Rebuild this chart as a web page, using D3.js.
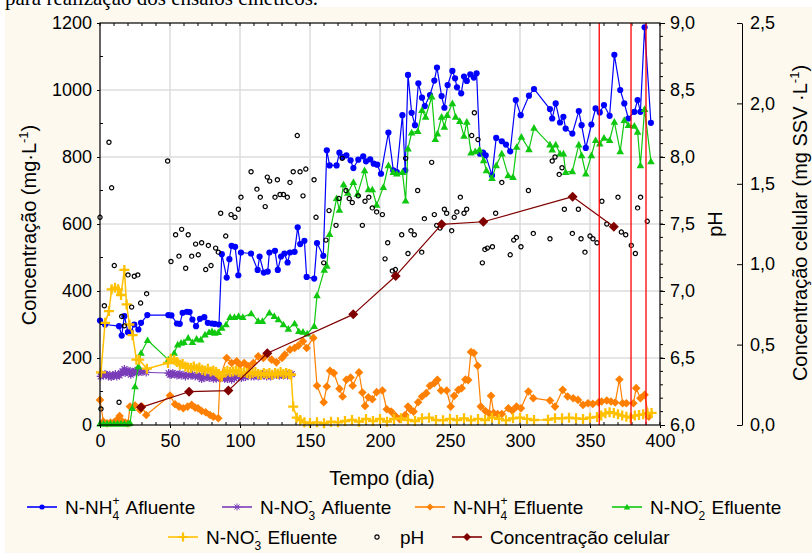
<!DOCTYPE html>
<html>
<head>
<meta charset="utf-8">
<script src="https://cdn.jsdelivr.net/npm/d3@7"></script>
<style>
  html, body { margin: 0; padding: 0; background: #ffffff; }
  svg { display: block; font-family: "Liberation Sans", Arial, Helvetica, sans-serif; }
</style>
</head>
<body>
<svg id="chart" width="812" height="555"></svg>
<script>
// ---- data: [dia, valor] ----
const nh4Afluente = [[0,312],[3.6,300],[13.6,295],[15.5,267],[17.4,325],[20,277],[22,278],[24.5,300],[27.4,285],[29.3,305],[33.8,328],[48.8,328],[51,327],[55,303],[57,302],[59,335],[62,338],[64,337],[66,315],[68.6,295],[71.4,317],[74.5,322],[77,305],[80,303],[82,302],[85,300],[87,510],[90.5,440],[92.4,495],[94,535],[96.5,532],[98.8,447],[100.7,515],[107.9,512],[112.6,463],[114,503],[117,455],[119.8,458],[121,515],[125,520],[127,463],[129.3,503],[131.7,512],[134,485],[135.7,515],[139,517],[141.2,590],[143,540],[146,550],[147.6,442],[153,437],[155,543],[159.5,505],[162,820],[164,775],[169,775],[171,813],[173.3,800],[176,805],[179,790],[181,767],[184.5,792],[188,802],[190,787],[193,793],[195.5,780],[198,777],[200.7,750],[206,873],[209.5,760],[212,755],[216,925],[218,760],[220,1045],[222.6,932],[225,895],[227.4,1020],[230,977],[232,952],[235.7,985],[238.8,1028],[240.7,1067],[244,982],[246,947],[248.3,1015],[251.7,1057],[253.6,1035],[255,1008],[258,990],[260,1040],[262,1027],[264.5,1047],[267,1037],[269,1050],[271.4,810],[273.6,813],[275.5,805],[280,745],[283,857],[287,847],[290,837],[293,817],[297,970],[300.5,925],[306.4,983],[310,1003],[321.4,943],[323,915],[325.5,960],[328.6,903],[331,920],[332.6,885],[337.4,870],[342,937],[344,895],[347,827],[351,897],[354,945],[357,933],[360,955],[364,923],[367.4,1105],[371.6,1000],[374.5,960],[377.4,915],[381.7,935],[384,970],[386,935],[389,1187],[393.5,902]];

const no3Afluente = [[0.5,145],[1.5,150],[2.5,148],[3.5,152],[4.5,150],[6,145],[7,150],[8,143],[9,148],[10,147],[11,152],[12,145],[13,150],[14,148],[15,155],[16,160],[17.4,167],[18,155],[19,158],[20,163],[21,160],[22,150],[23,155],[24,158],[25,162],[26,155],[27.4,165],[29,160],[30,158],[33,157],[49,155],[50,150],[51,150],[52,155],[53,152],[55,148],[56,150],[57,153],[58,148],[60,150],[61,145],[63,148],[65,147],[66,150],[68,145],[70,145],[71,148],[72.6,137],[74,145],[75,142],[77,145],[78,140],[80,143],[81,138],[83,138],[85,145],[86,140],[88,142],[89,138],[91,137],[92,143],[94,135],[96,140],[97,145],[99,145],[101,140],[102,147],[104,143],[105,148],[107,150],[108,145],[110,145],[111,150],[113,145],[114,147],[116,152],[117,148],[119,145],[120,150],[122,145],[123,148],[125,152],[126,150],[128,147],[129,152],[131,148],[132,150],[134,148],[135,155],[137,152]];

const nh4Efluente = [[0,75],[2.4,10],[5,5],[7.5,7],[10,8],[12,15],[14,27],[16,10],[18,7],[20,5],[21.4,55],[25,58],[28.6,45],[30,55],[33,30],[50,88],[53.6,62],[56.4,55],[59.5,50],[62.6,55],[65.5,60],[67.9,52],[70,50],[72.6,42],[75.5,38],[78.6,30],[81,25],[84.5,20],[85.7,143],[90.5,200],[94,185],[97.6,190],[100,180],[103,185],[106,175],[109.5,185],[113,205],[116.7,200],[119,212],[122.6,195],[126,187],[130,200],[132,210],[135.7,225],[139,230],[141.7,237],[145,250],[147.6,230],[152.4,260],[155,117],[159.8,68],[162,115],[164.3,162],[167,155],[171,108],[173.3,85],[176,135],[179,142],[180.5,117],[185,157],[187.4,97],[189.3,57],[191.7,83],[194.5,77],[197.6,98],[201.7,103],[204.8,47],[208,40],[211,27],[214,17],[218,30],[220,55],[222,45],[224,40],[227.2,68],[230,85],[233,95],[235.7,117],[238.8,125],[241,135],[243.6,103],[247.6,103],[250.5,55],[253,87],[256,105],[258.3,110],[261,136],[263,134],[265,218],[267,215],[269.7,177],[272,55],[275.3,42],[278,35],[279.3,87],[281.2,36],[284,33],[287,33],[291.7,50],[294.5,43],[297.5,55],[300.7,50],[306,100],[309.5,80],[321.4,73],[325,55],[330.5,105],[334,85],[338,80],[341.4,75],[345,60],[348.6,65],[352,63],[356,67],[358.3,70],[362,73],[365,70],[368,67],[371,136],[373.3,65],[376,65],[381,65],[383,110],[386,80],[389,90],[392,25]];

const no2Efluente = [[0,4],[2.5,4],[5,4],[7.5,4],[10,4],[12.5,4],[15,4],[17.5,4],[20,4],[21.5,6],[23,50],[25,115],[27.4,175],[29.3,215],[34,253],[48.8,195],[53,215],[55.5,240],[57.9,245],[60,247],[63,260],[66,247],[69,257],[72,255],[75,270],[77.9,277],[80,280],[82,275],[84.5,277],[87,290],[90,300],[92.9,322],[96,322],[99,325],[102,322],[108,333],[113,310],[116,310],[121,335],[124.5,325],[127.4,315],[131,300],[134.5,287],[139,303],[142,280],[145,278],[148,273],[153,295],[155,387],[160.2,463],[162,475],[164,570],[169,677],[171,642],[174,718],[177,693],[181,725],[184,690],[189,760],[191.7,703],[194.5,703],[197.6,657],[202.4,710],[206,775],[209.5,755],[212,750],[216,755],[218.3,670],[220,825],[222.6,873],[227,877],[230,940],[232.6,920],[237,980],[239.5,853],[241,870],[244,920],[246,890],[248,925],[251.7,960],[254,920],[257,907],[260,863],[262,905],[265,813],[268,817],[271,822],[274,790],[276,760],[280,737],[283,775],[287,810],[291.5,745],[295,740],[297.6,830],[301,860],[306.4,823],[310,887],[321.4,837],[323,822],[325.5,837],[328.6,810],[331,810],[332.6,755],[337.4,757],[342,837],[344,805],[347,750],[351,805],[354,850],[357,840],[360,857],[364,850],[367.4,905],[371.6,817],[374.5,910],[377.4,895],[381.7,893],[384,875],[386,775],[389,943],[393.5,787]];

const no3Efluente = [[0.7,157],[3.6,305],[6.4,340],[8.3,405],[10.7,410],[13,405],[15,388],[17.4,463],[19,360],[21,300],[23.3,268],[26,195],[28,195],[33.5,168],[48.5,185],[50.5,198],[53,195],[55,188],[57,180],[59,182],[61,175],[63,172],[65,170],[67,175],[69,168],[71,172],[73,165],[75,162],[77,168],[79,160],[81,163],[83,158],[85,152],[87,145],[89,158],[91,162],[93,158],[95,160],[97,163],[99,158],[101,155],[103,158],[105,155],[107,152],[109,155],[111,158],[113,152],[115,150],[117,155],[119,152],[121,155],[123,150],[125,155],[127,153],[129,158],[131,152],[133,155],[135,152],[136.5,150],[138,55],[140.5,22],[143,15],[146,8],[150,6],[155,8],[160,5],[165,10],[170,8],[175,12],[180,15],[185,10],[190,18],[195,12],[200,18],[205,10],[210,18],[215,20],[220,15],[225,12],[230,20],[235,22],[240,15],[245,14],[250,18],[255,15],[260,20],[265,14],[270,18],[275,15],[280,22],[285,18],[290,14],[295,20],[300,22],[305,18],[310,15],[320,16],[325,20],[330,20],[335,22],[340,20],[345,18],[350,22],[355,24],[358,28],[361,35],[364,38],[367,36],[370,32],[373,28],[376,25],[379,22],[382,28],[385,30],[388,32],[391,35],[394,36]];

const phValues = [[0,7.55],[0.7,6.12],[3.1,6.89],[6.4,8.11],[8.3,7.77],[10.2,7.19],[13.6,6.17],[15.5,6.81],[17.4,6.74],[20,7.12],[22.6,6.88],[24.5,7.11],[27,7.12],[29,6.91],[33.3,6.98],[48.3,7.97],[50.7,7.22],[54,7.42],[56.4,7.26],[58.3,7.46],[61.2,7.17],[63,7.42],[65.5,7.26],[68.3,7.35],[70.2,7.27],[72.6,7.36],[75.5,7.16],[77.4,7.34],[79.3,7.19],[82.6,7.32],[84.5,7.29],[86.2,7.58],[89.8,7.41],[93.6,7.57],[96.4,7.55],[98.8,7.61],[100.7,7.70],[107.9,7.89],[112.1,7.76],[114.5,7.70],[118,7.63],[119.5,7.85],[121.2,7.82],[125,7.70],[126.7,7.83],[128.6,7.72],[131,7.72],[133.8,7.70],[135.7,7.81],[138,7.89],[140.9,8.16],[142.9,7.89],[145,7.71],[147,7.91],[152.9,7.83],[154.3,7.55],[159.8,7.21],[161.4,7.38],[163.6,7.60],[168.6,7.49],[170.7,7.69],[173,7.99],[175.7,7.75],[178,7.69],[180.2,7.66],[184.5,7.71],[187.4,7.49],[189.3,7.67],[192,7.70],[194.5,7.62],[197.6,7.59],[201.7,7.57],[203.6,7.24],[205.5,7.36],[208.8,7.15],[211,7.16],[215.5,7.42],[218.3,7.99],[220,7.28],[222.1,7.45],[224.5,7.42],[226.9,7.75],[229.8,7.29],[231.7,7.54],[236.9,7.96],[238.8,7.57],[240.5,7.49],[242.9,7.47],[246,7.61],[247.6,7.58],[251.2,7.45],[253,7.55],[254.9,7.59],[257.4,7.70],[260,7.58],[261.9,7.61],[265.5,8.16],[267.4,8.33],[270,8.13],[273.1,7.21],[274.9,7.31],[276.7,7.32],[280.3,7.33],[282.6,7.58],[287,7.81],[293,7.27],[295.5,7.38],[297.4,7.40],[300.7,7.33],[306,7.75],[309.5,7.43],[321.4,7.39],[323,7.97],[325,8.00],[328,7.87],[330,7.92],[331.7,7.61],[337.4,7.43],[341.7,7.61],[343.6,7.39],[346.4,7.29],[350,7.41],[352.1,7.39],[355,7.36],[358.5,7.67],[362,7.50],[370,7.70],[372.4,7.44],[375.5,7.42],[379.5,7.34],[382.4,7.28],[384,7.62],[386.1,7.70],[390.9,7.52]];

const cellConc = [[29.3,0.11],[63.6,0.207],[91.7,0.214],[119.5,0.446],[180.9,0.688],[211.2,0.927],[244,1.248],[273.8,1.264],[337.6,1.42],[367,1.233]];

const redLineDays = [356.6, 379.3, 390];

// ---- ticks ----
const dayTicks = [0, 50, 100, 150, 200, 250, 300, 350, 400];
const concTicks = [0, 200, 400, 600, 800, 1000, 1200];
const phTicks = [6.0, 6.5, 7.0, 7.5, 8.0, 8.5, 9.0];
const cellTicks = [0.0, 0.5, 1.0, 1.5, 2.0, 2.5];

// ---- layout ----
const P = { left: 100, right: 660, top: 23, bottom: 425 };
const svg = d3.select("#chart");

const x = d3.scaleLinear().domain([0, 400]).range([P.left, P.right]);
const yConc = d3.scaleLinear().domain([0, 1200]).range([P.bottom, P.top]);
const yPh = d3.scaleLinear().domain([6, 9]).range([P.bottom, P.top]);
const yCell = d3.scaleLinear().domain([0, 2.5]).range([P.bottom, P.top]);
const comma1 = d => d3.format(".1f")(d).replace(".", ",");

// page background, caption remnant and panel
svg.append("rect").attr("width", 812).attr("height", 555).attr("fill", "#ffffff");
svg.append("rect").attr("x", 5).attr("y", 7).attr("width", 807).attr("height", 546).attr("fill", "#fdf9ef");
svg.append("text").attr("x", 5).attr("y", 5)
  .attr("font-family", "'Liberation Serif', 'Times New Roman', serif")
  .attr("font-size", 21).attr("fill", "#000")
  .text("para realização dos ensaios cinéticos.");

// plot area
svg.append("rect").attr("x", P.left).attr("y", P.top)
  .attr("width", P.right - P.left).attr("height", P.bottom - P.top).attr("fill", "#ffffff");

const grid = svg.append("g").attr("stroke", "#dcdcdc").attr("stroke-width", 1.5);
grid.selectAll("line.v").data(dayTicks.slice(1, -1)).join("line")
  .attr("x1", d => x(d)).attr("x2", d => x(d)).attr("y1", P.top).attr("y2", P.bottom);
grid.selectAll("line.h").data(concTicks.slice(1, -1)).join("line")
  .attr("y1", d => yConc(d)).attr("y2", d => yConc(d)).attr("x1", P.left).attr("x2", P.right);

// small ticks on the frame
const frameTicks = svg.append("g").attr("stroke", "#000").attr("stroke-width", 1);
const tenDays = d3.range(0, 401, 10);
frameTicks.selectAll("line.t").data(tenDays).join("line")
  .attr("x1", d => x(d)).attr("x2", d => x(d)).attr("y1", P.top).attr("y2", P.top + 3);
frameTicks.selectAll("line.b").data(tenDays).join("line")
  .attr("x1", d => x(d)).attr("x2", d => x(d)).attr("y1", P.bottom).attr("y2", P.bottom - 3);
frameTicks.selectAll("line.l").data(d3.range(100, 1200, 200)).join("line")
  .attr("x1", P.left).attr("x2", P.left + 3).attr("y1", d => yConc(d)).attr("y2", d => yConc(d));
frameTicks.selectAll("line.r").data(d3.range(61, 90).map(d => d / 10)).join("line")
  .attr("x1", P.right).attr("x2", P.right + 3).attr("y1", d => yPh(d)).attr("y2", d => yPh(d));

// series
const lineGen = (ys) => d3.line().x(d => x(d[0])).y(d => ys(d[1]));

function series(data, ys, color, width) {
  svg.append("path").datum(data).attr("d", lineGen(ys))
    .attr("fill", "none").attr("stroke", color).attr("stroke-width", width)
    .attr("stroke-linejoin", "round");
}
const shapes = {
  circle: r => `M${-r},0A${r},${r} 0 1,0 ${r},0A${r},${r} 0 1,0 ${-r},0Z`,
  diamond: r => `M0,${-r}L${r},0L0,${r}L${-r},0Z`,
  triangle: r => `M0,${-r}L${r},${r * 0.75}L${-r},${r * 0.75}Z`,
  plus: r => `M${-r},0H${r}M0,${-r}V${r}`,
  asterisk: r => `M${-r},0H${r}M0,${-r}V${r}M${-r * 0.72},${-r * 0.72}L${r * 0.72},${r * 0.72}M${-r * 0.72},${r * 0.72}L${r * 0.72},${-r * 0.72}`
};
function markers(data, ys, shape, r, style) {
  const g = svg.append("g");
  const sel = g.selectAll("path").data(data).join("path")
    .attr("transform", d => `translate(${x(d[0])},${ys(d[1])})`)
    .attr("d", shapes[shape](r));
  Object.entries(style).forEach(([k, v]) => sel.attr(k, v));
}

const C = {
  blue: "#0000ff", purple: "#7a3db8", orange: "#ff8000", green: "#10c810",
  yellow: "#ffc000", darkred: "#800000", red: "#ff0000"
};

series(nh4Afluente, yConc, C.blue, 1.2);
markers(nh4Afluente, yConc, "circle", 3.1, { fill: C.blue });

series(no3Afluente, yConc, C.purple, 1);
markers(no3Afluente, yConc, "asterisk", 4, { fill: "none", stroke: C.purple, "stroke-width": 1.2 });

series(nh4Efluente, yConc, C.orange, 1.2);
markers(nh4Efluente, yConc, "diamond", 4.3, { fill: C.orange });

series(no2Efluente, yConc, C.green, 1.2);
markers(no2Efluente, yConc, "triangle", 3.8, { fill: C.green });

series(no3Efluente, yConc, C.yellow, 1.5);
markers(no3Efluente, yConc, "plus", 5, { fill: "none", stroke: C.yellow, "stroke-width": 2.3 });

markers(phValues, yPh, "circle", 2.1, { fill: "none", stroke: "#000", "stroke-width": 1.2 });

series(cellConc, yCell, C.darkred, 1.2);
markers(cellConc, yCell, "diamond", 5, { fill: C.darkred });

// marked days
svg.append("g").selectAll("line").data(redLineDays).join("line")
  .attr("x1", d => x(d)).attr("x2", d => x(d)).attr("y1", P.top).attr("y2", P.bottom)
  .attr("stroke", C.red).attr("stroke-width", 1.3);

// frame
svg.append("rect").attr("x", P.left).attr("y", P.top)
  .attr("width", P.right - P.left).attr("height", P.bottom - P.top)
  .attr("fill", "none").attr("stroke", "#000").attr("stroke-width", 1.2);

// axes
function styleAxis(g) {
  g.selectAll("text").attr("font-size", 18).attr("fill", "#000")
    .attr("font-family", "'Liberation Sans', Arial, sans-serif");
  g.selectAll("line").attr("stroke", "#000");
  g.select(".domain").attr("stroke", "#000");
}
svg.append("g").attr("transform", `translate(0,${P.bottom})`)
  .call(d3.axisBottom(x).tickValues(dayTicks).tickFormat(d3.format("d")).tickSize(3).tickPadding(6))
  .call(g => g.select(".domain").remove())
  .call(styleAxis);

svg.append("g").attr("transform", `translate(${P.left},0)`)
  .call(d3.axisLeft(yConc).tickValues(concTicks).tickFormat(d3.format("d")).tickSize(3).tickPadding(5))
  .call(g => g.select(".domain").remove())
  .call(styleAxis);

svg.append("g").attr("transform", `translate(${P.right},0)`)
  .call(d3.axisRight(yPh).tickValues(phTicks).tickFormat(comma1).tickSize(5).tickPadding(5))
  .call(g => g.select(".domain").remove())
  .call(styleAxis);

svg.append("g").attr("transform", "translate(742,0)")
  .call(d3.axisRight(yCell).tickValues(cellTicks).tickFormat(comma1).tickSizeInner(-5).tickSizeOuter(0).tickPadding(8))
  .call(styleAxis);

// axis titles
function titleWithSup(gx, gy, rot, main, sup, tail) {
  const t = svg.append("text").attr("transform", `translate(${gx},${gy}) rotate(${rot})`)
    .attr("text-anchor", "middle").attr("font-size", 20).attr("fill", "#000");
  t.append("tspan").text(main);
  t.append("tspan").attr("font-size", 13).attr("dy", -8).text(sup);
  t.append("tspan").attr("dy", 8).text(tail);
  return t;
}
svg.append("text").attr("x", 382).attr("y", 485).attr("text-anchor", "middle")
  .attr("font-size", 20).attr("fill", "#000").text("Tempo (dia)");
titleWithSup(36, 225, -90, "Concentração (mg·L", "-1", ")");
svg.append("text").attr("transform", "translate(722,224) rotate(-90)")
  .attr("text-anchor", "middle").attr("font-size", 20).attr("fill", "#000").text("pH");
titleWithSup(807, 223, -90, "Concentração celular (mg SSV ·L", "-1", ")");

// legend
const legendItems = [
  { x: 27, y: 507, color: C.blue, shape: "circle", r: 2.6, fill: true, label: ["N-NH", "4", "+", "Afluente"] },
  { x: 222, y: 507, color: C.purple, shape: "asterisk", r: 3.5, fill: false, sw: 1, label: ["N-NO", "3", "-", "Afluente"] },
  { x: 415, y: 507, color: C.orange, shape: "diamond", r: 3.5, fill: true, label: ["N-NH", "4", "+", "Efluente"] },
  { x: 612, y: 507, color: C.green, shape: "triangle", r: 3.2, fill: true, label: ["N-NO", "2", "-", "Efluente"] },
  { x: 168, y: 537, color: C.yellow, shape: "plus", r: 4.5, fill: false, sw: 2.2, label: ["N-NO", "3", "-", "Efluente"] },
  { x: 362, y: 537, color: null, shape: "circle", r: 2.1, fill: false, sw: 1.1, label: ["pH"] },
  { x: 452, y: 537, color: C.darkred, shape: "diamond", r: 4, fill: true, label: ["Concentração celular"] }
];
const lg = svg.append("g");
legendItems.forEach(it => {
  const g = lg.append("g");
  if (it.color) {
    g.append("line").attr("x1", it.x).attr("x2", it.x + 30).attr("y1", it.y).attr("y2", it.y)
      .attr("stroke", it.color).attr("stroke-width", 1.6);
  }
  const mc = it.color || "#000";
  g.append("path").attr("transform", `translate(${it.x + 15},${it.y})`)
    .attr("d", shapes[it.shape](it.r))
    .attr("fill", it.fill ? mc : "none")
    .attr("stroke", it.fill ? "none" : mc)
    .attr("stroke-width", it.sw || 1);
  const tx = it.x + 38, ty = it.y + 7;
  const t = g.append("text").attr("x", tx).attr("y", ty).attr("font-size", 19).attr("fill", "#000");
  t.append("tspan").text(it.label[0]);
  if (it.label.length > 1) {
    // subscript and superscript share the same start; the tail begins after them
    const head = t.node().getComputedTextLength();
    g.append("text").attr("x", tx + head).attr("y", ty + 6).attr("font-size", 12).attr("fill", "#000").text(it.label[1]);
    g.append("text").attr("x", tx + head).attr("y", ty - 9).attr("font-size", 12).attr("fill", "#000").text(it.label[2]);
    g.append("text").attr("x", tx + head + 13).attr("y", ty).attr("font-size", 19).attr("fill", "#000").text(it.label[3]);
  }
});
</script>
</body>
</html>
